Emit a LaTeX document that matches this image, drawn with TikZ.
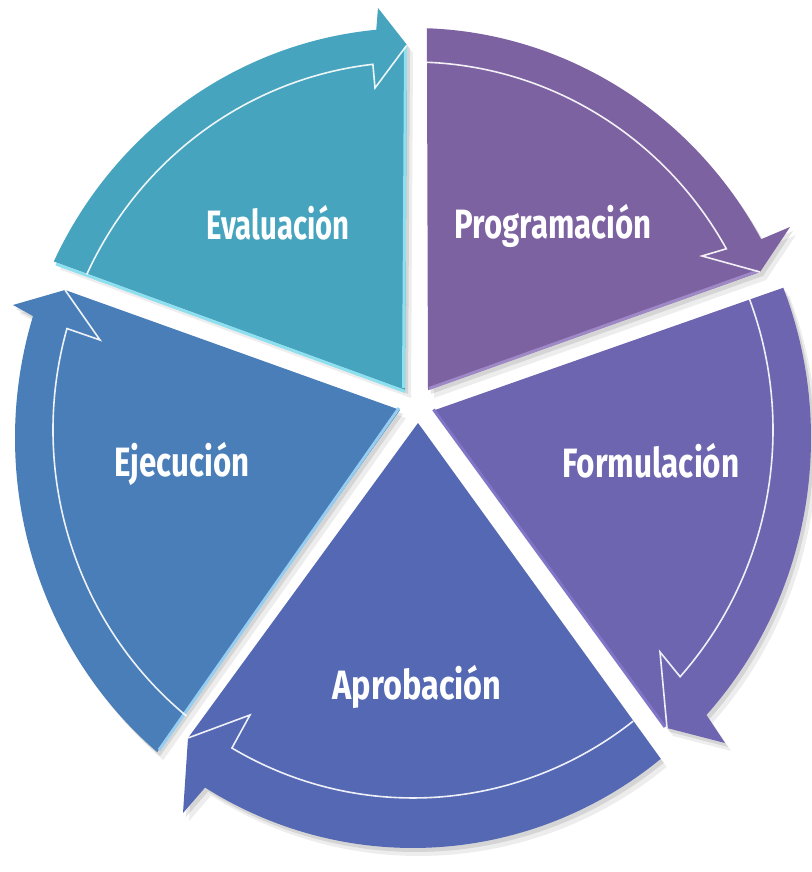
\documentclass[tikz,border=0pt]{standalone}
\usepackage{fontspec}
\usepackage{graphicx}
\newfontfamily\lblfont{Fira Sans}
\definecolor{cEva}{RGB}{71,164,190}
\definecolor{cPro}{RGB}{125,98,162}
\definecolor{cFor}{RGB}{109,101,176}
\definecolor{cApr}{RGB}{85,104,180}
\definecolor{cEje}{RGB}{74,126,184}
\definecolor{hEva}{RGB}{140,224,240}
\definecolor{hEje}{RGB}{150,205,240}
\definecolor{hPro}{RGB}{158,136,198}
\definecolor{hFor}{RGB}{128,118,200}
\tikzset{
  wline/.style={draw=white, line width=1.6pt, line join=miter, opacity=.9},
  bevel/.style={line width=3pt, line cap=butt},
  shade1/.style={fill=black, opacity=.10, shift={(3,-4)}},
  shade2/.style={fill=black, opacity=.07, shift={(6,-8)}},
  lbl/.style={text=white, font=\lblfont\bfseries\fontsize{41}{41}\selectfont, inner sep=0pt, anchor=base},
}
\def\pEva{(-8,48) -- (154.5:398pt and 410pt) arc[start angle=154.5, end angle=95.3, x radius=398pt, y radius=410pt] -- (-35,430) -- (-6,393) -- cycle}
\def\pPro{(15,48) -- (88:398pt and 410pt) arc[start angle=88, end angle=29, x radius=398pt, y radius=410pt] -- (377,211) -- (347,166) -- cycle}
\def\pFor{(22,28) -- (21.5:398pt and 410pt) arc[start angle=21.5, end angle=-42.5, x radius=398pt, y radius=410pt] -- (312,-305) -- (254,-290) -- cycle}
\def\pApr{(5,15) -- (-51.5:398pt and 410pt) arc[start angle=-51.5, end angle=-121.5, x radius=398pt, y radius=410pt] -- (-230,-375) -- (-225,-300) -- cycle}
\def\pEje{(-13,28) -- (230:398pt and 410pt) arc[start angle=230, end angle=162.7, x radius=398pt, y radius=410pt] -- (-400,133) -- (-348,148) -- cycle}
\begin{document}
\begin{tikzpicture}[x=1pt,y=1pt]
\useasboundingbox (0,0) rectangle (811,872);
\begin{scope}[shift={(413,434)}]
  % shadows
  \foreach \p in {\pEva,\pPro,\pFor,\pApr,\pEje}{
    \fill[shade2] \p;
    \fill[shade1] \p;
  }
  % wedges
  \fill[cEva] \pEva;
  \fill[cPro] \pPro;
  \fill[cFor] \pFor;
  \fill[cApr] \pApr;
  \fill[cEje] \pEje;
  % bevel highlights on straight edges
  \draw[bevel, hEva] (-9.5,50) -- (-7.5,391);
  \draw[bevel, hEva] (-8,46.5) -- (-357,174);
  \draw[bevel, hEje] (-14,30) -- (-254,-312);
  \draw[bevel, hPro] (16,49.5) -- (345,167);
  \draw[bevel, hFor] (20.5,28.5) -- (252,-289);
  % white inner lines with arrow barbs
  \begin{scope}[yshift=8pt]
    \draw[wline] (155:360pt and 368pt) arc[start angle=155, end angle=96.4, x radius=360pt, y radius=368pt] -- (-38,342) -- (-6,385);
    \draw[wline] (87.8:360pt and 368pt) arc[start angle=87.8, end angle=29.5, x radius=360pt, y radius=368pt] -- (289,174) -- (347,158);
    \draw[wline] (22:360pt and 368pt) arc[start angle=22, end angle=-42.1, x radius=360pt, y radius=368pt] -- (247,-222) -- (254,-298);
    \draw[wline] (-52.3:360pt and 368pt) arc[start angle=-52.3, end angle=-120.2, x radius=360pt, y radius=368pt] -- (-163,-285) -- (-225,-308);
    \draw[wline] (231:360pt and 368pt) arc[start angle=231, end angle=164, x radius=360pt, y radius=368pt] -- (-313,90) -- (-348,140);
  \end{scope}
  % labels
  \node[lbl] (eva) at (-135,198) {\resizebox{143pt}{\height}{Evaluación}};
  \node[lbl] (pro) at (140,199) {\resizebox{197pt}{\height}{Programación}};
  \node[lbl] (for) at (238,-40) {\resizebox{177pt}{\height}{Formulación}};
  \node[lbl] (apr) at (4,-262) {\resizebox{169pt}{\height}{Aprobación}};
  \node[lbl] (eje) at (-231,-39) {\resizebox{135pt}{\height}{Ejecución}};
\end{scope}
\end{tikzpicture}
\end{document}
